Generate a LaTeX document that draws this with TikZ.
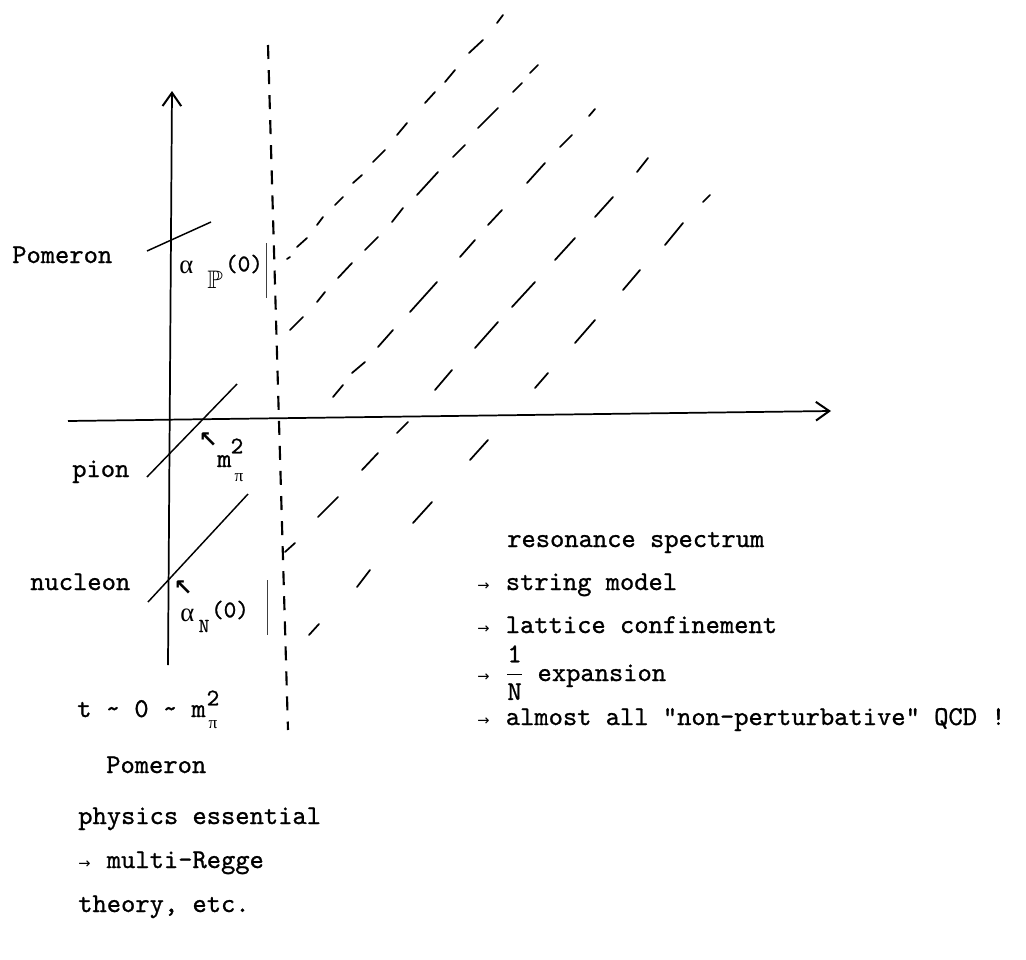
\documentclass[tikz,border=0pt]{standalone}
\usepackage{amsmath,amssymb}
\usepackage{fontspec}
\newfontfamily\tw{lmmono10-regular.otf}[RawFeature={embolden=0.9}]
\newfontfamily\symfont{DejaVu Sans}
\newfontfamily\grk{Liberation Serif}
\usetikzlibrary{arrows.meta}
\newcommand\arr{\makebox[0.525em][l]{\fontsize{11}{12}\selectfont\symfont →}}
\newcommand\tld{\textasciitilde}
\tikzset{
  axisline/.style={line width=1.3pt,-{Straight Barb[length=10pt,width=14pt,line width=1.5pt]}},
  traj/.style={line width=1.1pt},
  rdash/.style={line width=1.3pt,line cap=round},
  vdashline/.style={line width=1.6pt,dash pattern=on 10.5pt off 8.3pt},
  thinline/.style={line width=0.6pt,black!75},
  lbl/.style={inner sep=0pt,anchor=base west,font=\fontsize{20.4}{22}\selectfont\tw},
  mid/.style={inner sep=0pt,font=\fontsize{18}{20}\selectfont\tw},
  greek/.style={inner sep=0pt,anchor=base west,font=\fontsize{20}{22}\selectfont\grk},
  smallgreek/.style={inner sep=0pt,font=\fontsize{13}{15}\selectfont\grk},
  marker/.style={inner sep=0pt,font=\fontsize{17}{18}\selectfont\symfont\bfseries}
}
\begin{document}
\begin{tikzpicture}[x=0.75pt,y=-0.75pt]
\fill[white] (0,0) rectangle (1026,960);
\path[use as bounding box] (0,0) rectangle (1026,960);

% axes
\coordinate (vbot) at (168,665);
\coordinate (vtop) at (172,91);
\coordinate (hleft) at (68,421);
\coordinate (hright) at (831,411);
\draw[axisline] (vbot) -- (vtop);
\draw[axisline] (hleft) -- (hright);

% vertical dashed line
\coordinate (dtop) at (268,45);
\coordinate (dbot) at (288,730);
\draw[vdashline] (dtop) -- (dbot);

% trajectories
\coordinate (pa) at (147,251); \coordinate (pb) at (211,222);
\coordinate (pia) at (147,477); \coordinate (pib) at (237,384);
\coordinate (na) at (148,602); \coordinate (nb) at (248,494);
\draw[traj] (pa) -- (pb);
\draw[traj] (pia) -- (pib);
\draw[traj] (na) -- (nb);

% thin vertical marks
\coordinate (ta) at (266,243); \coordinate (tb) at (266,298);
\coordinate (tc) at (267,580); \coordinate (td) at (267,635);
\draw[thinline] (ta) -- (tb);
\draw[thinline] (tc) -- (td);

% dashed daughter trajectories
\foreach \xa/\ya/\xb/\yb in {
 287/259/290/257, 297/247/307/238, 317/225/323/217, 335/205/343/197,
 353/183/362/175, 373/162/385/150, 397/135/407/123, 425/103/435/92,
 445/82/455/70, 469/53/483/40, 497/23/503/15,
 290/330/303/317, 317/302/325/292, 338/278/352/263, 365/250/378/237,
 392/222/403/208, 417/195/438/172, 453/157/465/145, 478/128/498/108,
 513/92/522/83, 530/73/538/65,
 333/397/343/385, 352/373/365/362, 378/347/393/330, 410/312/437/282,
 460/257/475/240, 488/225/502/210, 527/183/545/163, 560/147/572/135,
 589/116/595/109,
 285/552/295/543, 318/517/338/497, 362/470/378/453, 397/433/408/422,
 435/390/452/370, 475/348/498/322, 512/307/535/282, 555/260/575/238,
 595/217/613/197, 637/172/648/158,
 309/635/319/624, 357/587/370/570, 413/523/432/502, 470/460/488/440,
 535/388/548/373, 575/343/595/320, 623/290/640/270, 665/245/683/223,
 703/202/710/195}
 {\draw[rdash] (\xa,\ya) -- (\xb,\yb);}

% labels left
\node[lbl] (pomU) at (12,263) {Pomeron};
\node[lbl] (pion) at (72,477) {pion};
\node[lbl] (nucl) at (30,590) {nucleon};

% alpha_P(0)
\node[greek] (aP) at (179,273) {α};
\node[inner sep=0pt,anchor=base west,font=\fontsize{19}{20}\selectfont] (PP) at (207,288) {$\mathbb{P}$};
\node[mid] (zP) at (244,264) {(0)};

% m_pi^2
\node[marker] (ar1) at (208,440) {↖};
\node[mid] (two1) at (237,446) {2};
\node[lbl] (m1) at (217,467) {m};
\node[smallgreek] (pi1) at (239,478) {π};

% alpha_N(0)
\node[marker] (ar2) at (183,588) {↖};
\node[greek] (aN) at (180,621) {α};
\node[inner sep=0pt,font=\fontsize{15}{16}\selectfont\tw] (NN) at (204,626) {N};
\node[mid] (zN) at (230,610) {(0)};

% t ~ 0 ~ m_pi^2
\node[lbl] (t0) at (77,717) {t \tld{} 0 \tld{} m};
\node[mid] (two2) at (213,698) {2};
\node[smallgreek] (pi2) at (213,725) {π};

% lower left block
\node[lbl] (pomL) at (106,773) {Pomeron};
\node[lbl] (phys) at (78,824) {physics essential};
\node[lbl] (mr) at (78,868) {\arr{} multi-Regge};
\node[lbl] (th) at (78,912) {theory, etc.};

% right block
\node[lbl] (res) at (507,547) {resonance spectrum};
\node[lbl] (str) at (477,590) {\arr{} string model};
\node[lbl] (lat) at (477,633) {\arr{} lattice confinement};
\node[lbl] (exp) at (477,681) {\arr{} $\dfrac{\text{1}}{\text{N}}$ expansion};
\node[lbl] (qcd) at (477,725) {\arr{} almost all "non-perturbative" QCD !};
\end{tikzpicture}
\end{document}
